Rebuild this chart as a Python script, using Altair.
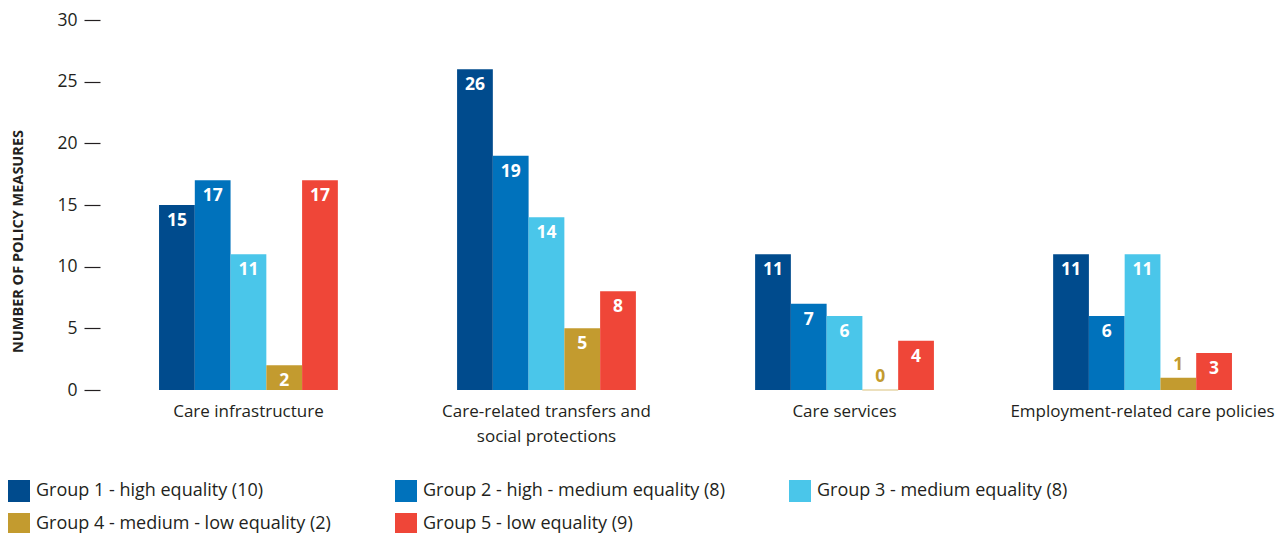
import altair as alt
import pandas as pd

categories = ["Care infrastructure", "Care-related transfers and social protections",
              "Care services", "Employment-related care policies"]
groups = ["Group 1 - high equality (10)", "Group 2 - high - medium equality (8)",
          "Group 3 - medium equality (8)", "Group 4 - medium - low equality (2)",
          "Group 5 - low equality (9)"]
values = {
    groups[0]: [15, 26, 11, 11],
    groups[1]: [17, 19, 7, 6],
    groups[2]: [11, 14, 6, 11],
    groups[3]: [2, 5, 0, 1],
    groups[4]: [17, 8, 4, 3],
}
colors = ["#004B8D", "#0072BC", "#4AC6EA", "#C39B2F", "#EF4638"]

rows = []
for g in groups:
    for c, v in zip(categories, values[g]):
        rows.append({"category": c, "group": g, "value": v})
df = pd.DataFrame(rows)

FONT = "Open Sans"
TXT = "#231F20"

x = alt.X("category:N", sort=categories, title=None,
          scale=alt.Scale(paddingInner=0.4, paddingOuter=0.131),
          axis=alt.Axis(ticks=False, domain=False, labelAngle=0, labelFontSize=17,
                        labelFont=FONT, labelColor=TXT, labelPadding=13,
                        labelLineHeight=25, labelLimit=400,
                        labelExpr="datum.label == 'Care-related transfers and social protections' ? ['Care-related transfers and', 'social protections'] : datum.label"))
xo = alt.XOffset("group:N", sort=groups, scale=alt.Scale(paddingInner=0, paddingOuter=0))
y = alt.Y("value:Q", scale=alt.Scale(domain=[0, 30], nice=False),
          axis=alt.Axis(values=[0, 5, 10, 15, 20, 25, 30], tickSize=16, tickWidth=1.2,
                        tickColor=TXT, domain=False, grid=False, labelPadding=7,
                        labelFontSize=17.5, labelFont=FONT, labelColor=TXT, offset=20,
                        title="NUMBER OF POLICY MEASURES", titleFontSize=14.5,
                        titleFont=FONT, titleFontWeight="bold", titleColor=TXT,
                        titleX=-82, titleY=221, titleAngle=-90, titleBaseline="middle",
                        titleAlign="center"))
color = alt.Color("group:N", sort=groups, scale=alt.Scale(domain=groups, range=colors),
                  legend=alt.Legend(title=None, orient="none", legendX=-112, legendY=460,
                                    direction="horizontal",
                                    columns=3, columnPadding=64, rowPadding=11,
                                    symbolType="square", symbolSize=484,
                                    symbolStrokeWidth=0, labelFontSize=18, labelFont=FONT,
                                    labelColor=TXT, labelOffset=6, labelLimit=500,
                                    symbolOpacity=1))

base = alt.Chart(df)
bars = base.mark_bar(opacity=1).encode(x=x, xOffset=xo, y=y, color=color)
zero = base.transform_filter("datum.value == 0").mark_bar(
    stroke="#C39B2F", strokeWidth=1, strokeOpacity=0.35).encode(
    x=x, xOffset=xo, y=y, color=alt.Color("group:N", sort=groups,
                                          scale=alt.Scale(domain=groups, range=colors), legend=None))
inside = base.transform_filter("datum.value >= 2").mark_text(
    color="white", fontWeight="bold", fontSize=17.5, font=FONT, baseline="top", dy=7).encode(
    x=x, xOffset=xo, y=y, text="value:Q")
outside = base.transform_filter("datum.value < 2").mark_text(
    color="#C39B2F", fontWeight="bold", fontSize=17.5, font=FONT, baseline="alphabetic", dy=-8).encode(
    x=x, xOffset=xo, y=y, text="value:Q")

chart = alt.layer(bars, zero, inside, outside).properties(
    width=1151, height=370,
    autosize=alt.AutoSizeParams(type="none"),
    padding={"left": 112, "top": 12, "right": 6, "bottom": 143},
).configure_view(stroke=None)

chart.save("out.html", embed_options={"renderer": "svg", "actions": False})
